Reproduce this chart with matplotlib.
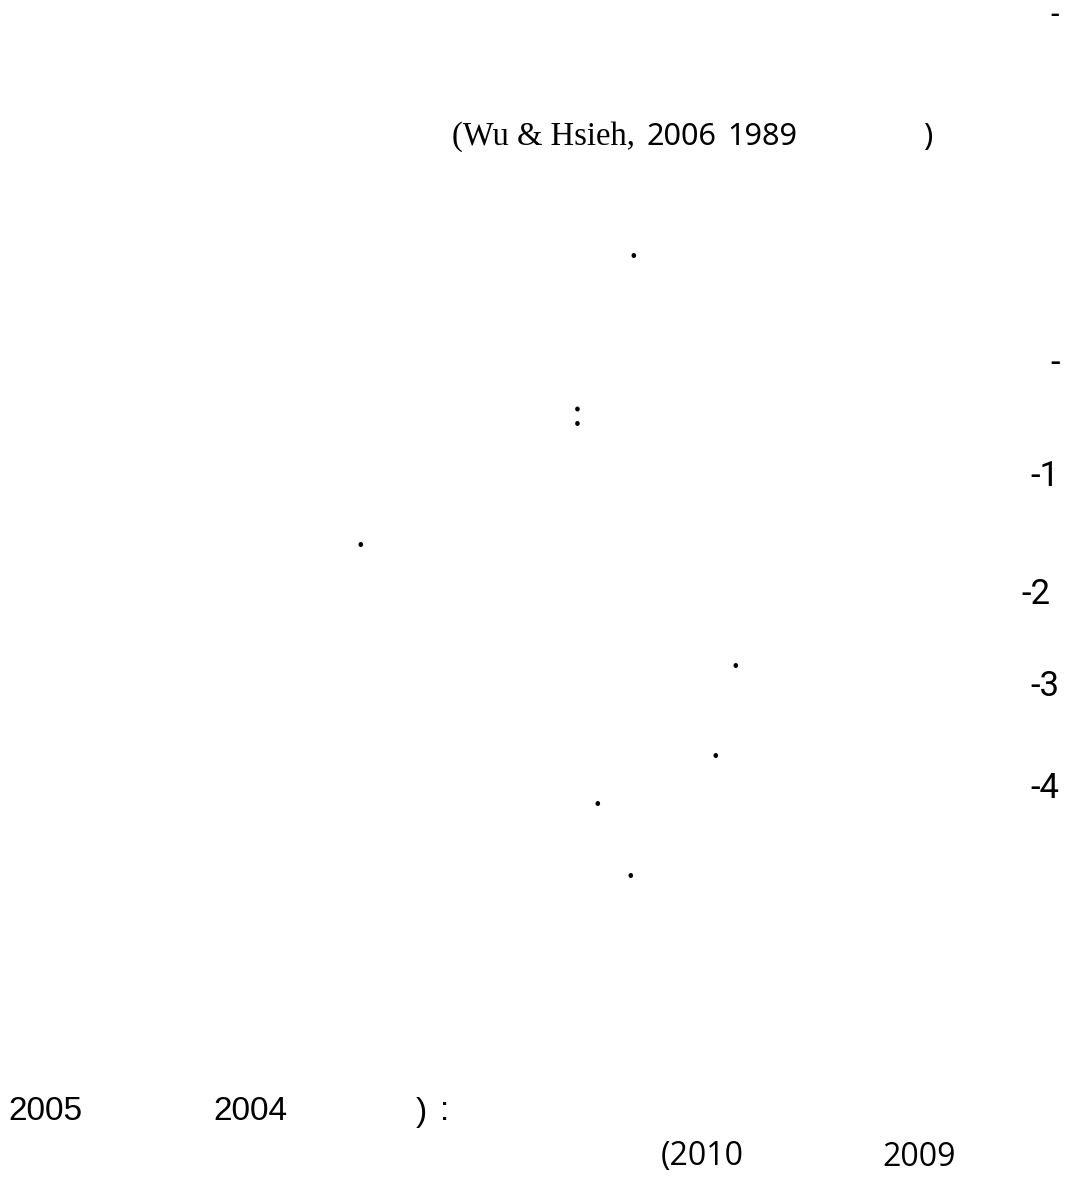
import matplotlib
matplotlib.use("Agg")
import matplotlib.pyplot as plt

# page fragments (only the Latin glyphs survived extraction)
citation = "(Wu & Hsieh,"
citation_years = ["2006", "1989"]
list_numbers = ["-1", "-2", "-3", "-4"]
bottom_years_1 = ["2005", "2004"]
bottom_years_2 = ["(2010", "2009"]

W, H = 1070, 1200
fig = plt.figure(figsize=(W / 100, H / 100), dpi=100)
fig.patch.set_facecolor("white")


def put(x, y, s, size=22, family="Noto Sans", ha="center"):
    # x, y in pixels from top-left
    fig.text(x / W, 1 - y / H, s, fontsize=size, family=family,
             ha=ha, va="center", color="black")


# top dashes
put(1055, 15, "-", size=22, family="Roboto")
put(1055, 363, "-", size=25, family="Roboto")

# citation line
put(452, 137, citation, size=23.5, family="Liberation Serif", ha="left")
put(681, 137, citation_years[0], size=22)
put(762, 137, citation_years[1], size=22)
put(928, 137, ")", size=22)

# stray dots / colon
dot_font = dict(size=28, family="Liberation Serif")
put(633, 248, ".", **dot_font)
put(577, 416, ":", **dot_font)
put(360, 538, ".", **dot_font)
put(735, 658, ".", **dot_font)
put(715, 748, ".", **dot_font)
put(597, 796, ".", **dot_font)
put(630, 868, ".", **dot_font)

# numbered list markers
list_x = [1045, 1036, 1045, 1045]
list_y = [477, 594, 687, 789]
for s, x, y in zip(list_numbers, list_x, list_y):
    put(x, y, s, size=25, family="Roboto")

# bottom lines
put(45, 1112, bottom_years_1[0], size=24, family="Liberation Sans")
put(250, 1112, bottom_years_1[1], size=24, family="Liberation Sans")
put(421, 1112, ")", size=24, family="Liberation Sans")
put(445, 1112, ":", size=24, family="Liberation Sans")

put(702, 1157, bottom_years_2[0], size=23, family="Open Sans")
put(919, 1157, bottom_years_2[1], size=23, family="Open Sans")

fig.savefig("out.png", dpi=100, facecolor="white")
